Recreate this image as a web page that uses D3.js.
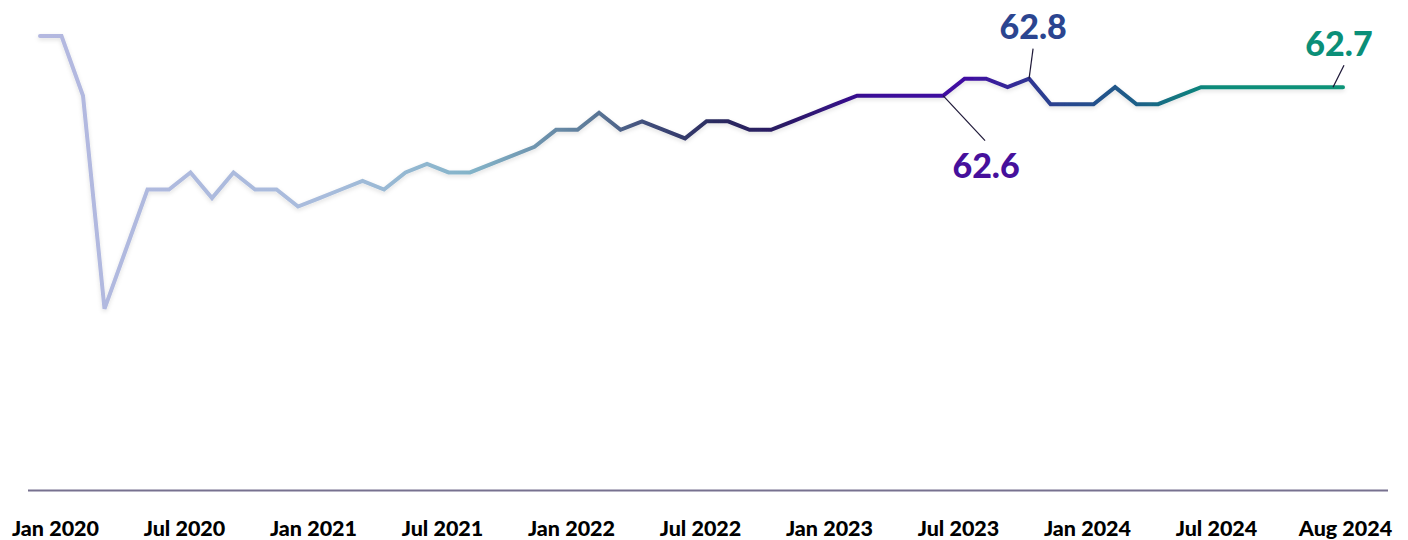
<!DOCTYPE html>
<html>
<head>
<meta charset="utf-8">
<script src="https://cdn.jsdelivr.net/npm/d3@7"></script>
<style>
  html, body { margin: 0; padding: 0; background: #ffffff; }
  svg { display: block; }
  .tick text { font-family: Lato, "Open Sans", sans-serif; font-weight: 900; }
</style>
</head>
<body>
<svg id="chart" width="1408" height="540"></svg>
<script>
// ---- Data ----
const months = [
  "Jan 2020","Feb 2020","Mar 2020","Apr 2020","May 2020","Jun 2020","Jul 2020","Aug 2020","Sep 2020","Oct 2020","Nov 2020","Dec 2020",
  "Jan 2021","Feb 2021","Mar 2021","Apr 2021","May 2021","Jun 2021","Jul 2021","Aug 2021","Sep 2021","Oct 2021","Nov 2021","Dec 2021",
  "Jan 2022","Feb 2022","Mar 2022","Apr 2022","May 2022","Jun 2022","Jul 2022","Aug 2022","Sep 2022","Oct 2022","Nov 2022","Dec 2022",
  "Jan 2023","Feb 2023","Mar 2023","Apr 2023","May 2023","Jun 2023","Jul 2023","Aug 2023","Sep 2023","Oct 2023","Nov 2023","Dec 2023",
  "Jan 2024","Feb 2024","Mar 2024","Apr 2024","May 2024","Jun 2024","Jul 2024","Aug 2024"
];
const rates = [
  63.3,63.3,62.6,60.1,60.8,61.5,61.5,61.7,61.4,61.7,61.5,61.5,
  61.3,61.4,61.5,61.6,61.5,61.7,61.8,61.7,61.7,61.8,61.9,62.0,
  62.2,62.2,62.4,62.2,62.3,62.2,62.1,62.3,62.3,62.2,62.2,62.3,
  62.4,62.5,62.6,62.6,62.6,62.6,62.6,62.8,62.8,62.7,62.8,62.5,
  62.5,62.5,62.7,62.5,62.5,62.6,62.7,62.7
];
const tickLabels = ["Jan 2020","Jul 2020","Jan 2021","Jul 2021","Jan 2022","Jul 2022","Jan 2023","Jul 2023","Jan 2024","Jul 2024","Aug 2024"];
const annotations = [
  { month: "Jul 2023", text: "62.6", color: "#46109c" },
  { month: "Nov 2023", text: "62.8", color: "#2b4590" },
  { month: "Aug 2024", text: "62.7", color: "#0b8f78" }
];
const gradientStops = [
  { offset: 0.00, color: "#b4b8e0" },
  { offset: 0.22, color: "#a8bcdc" },
  { offset: 0.33, color: "#84b4c9" },
  { offset: 0.42, color: "#5e7c9a" },
  { offset: 0.47, color: "#3e4a78" },
  { offset: 0.52, color: "#2a2a5e" },
  { offset: 0.57, color: "#2a1a64" },
  { offset: 0.64, color: "#3a0c98" },
  { offset: 0.71, color: "#400ca2" },
  { offset: 0.77, color: "#2c3e90" },
  { offset: 0.84, color: "#1e5e88" },
  { offset: 0.90, color: "#0a8b7a" },
  { offset: 1.00, color: "#0a9478" }
];

// ---- Layout ----
const svg = d3.select("#chart");
const endGap = 6.6; // extra room (in months) before the final point
const lastMonthly = months.length - 2;

const x = d3.scaleLinear().domain([0, lastMonthly + endGap]).range([40, 1343]);
const y = d3.scaleLinear().domain([58, 63.3]).range([488, 36]);
const xPos = i => i <= lastMonthly ? x(i) : x(lastMonthly + endGap);

const pts = rates.map((v, i) => ({ i, month: months[i], v }));

// gradient
const defs = svg.append("defs");
const grad = defs.append("linearGradient")
  .attr("id", "lineGrad")
  .attr("gradientUnits", "userSpaceOnUse")
  .attr("x1", x.range()[0]).attr("x2", x.range()[1])
  .attr("y1", 0).attr("y2", 0);
grad.selectAll("stop").data(gradientStops).join("stop")
  .attr("offset", d => d.offset).attr("stop-color", d => d.color);

const filt = defs.append("filter").attr("id", "shadow")
  .attr("x", "-5%").attr("y", "-20%").attr("width", "110%").attr("height", "140%");
filt.append("feDropShadow").attr("dx", 0).attr("dy", 2).attr("stdDeviation", 2)
  .attr("flood-color", "#000").attr("flood-opacity", 0.12);

// axis baseline
svg.append("line")
  .attr("x1", 28).attr("x2", 1388)
  .attr("y1", 490.5).attr("y2", 490.5)
  .attr("stroke", "#77718f").attr("stroke-width", 2);

// x axis labels
const xTicks = d3.scalePoint().domain(tickLabels).range([55, 1345]);
const axis = svg.append("g")
  .attr("transform", "translate(0,521)")
  .call(d3.axisBottom(xTicks).tickSize(0).tickPadding(0));
axis.select(".domain").remove();
axis.selectAll("text")
  .attr("font-size", 21.5)
  .attr("fill", "#000")
  .attr("dy", "0.72em");

// line
const line = d3.line().x(d => xPos(d.i)).y(d => y(d.v));
svg.append("path")
  .datum(pts)
  .attr("d", line)
  .attr("fill", "none")
  .attr("stroke", "url(#lineGrad)")
  .attr("stroke-width", 4)
  .attr("stroke-linejoin", "miter")
  .attr("stroke-linecap", "round")
  .attr("filter", "url(#shadow)");

// annotations
const annLayout = {
  "62.6": { x0: 0, y0: 0, dx: 42, dy: 45, tx: 43, ty: 82 },
  "62.8": { x0: 0, y0: 0, dx: 4, dy: -30, tx: 4, ty: -40 },
  "62.7": { x0: -10, y0: 0, dx: 1, dy: -22, tx: -4, ty: -31 }
};
annotations.forEach(a => {
  const i = months.indexOf(a.month);
  const px = xPos(i), py = y(rates[i]);
  const L = annLayout[a.text];
  svg.append("line")
    .attr("x1", px + L.x0).attr("y1", py + L.y0)
    .attr("x2", px + L.dx).attr("y2", py + L.dy)
    .attr("stroke", "#1e1838").attr("stroke-width", 1.2);
  svg.append("text")
    .attr("x", px + L.tx).attr("y", py + L.ty)
    .attr("text-anchor", "middle")
    .attr("font-family", "Lato, 'Open Sans', sans-serif")
    .attr("font-weight", 900)
    .attr("font-size", 34)
    .attr("fill", a.color)
    .text(a.text);
});
</script>
</body>
</html>
